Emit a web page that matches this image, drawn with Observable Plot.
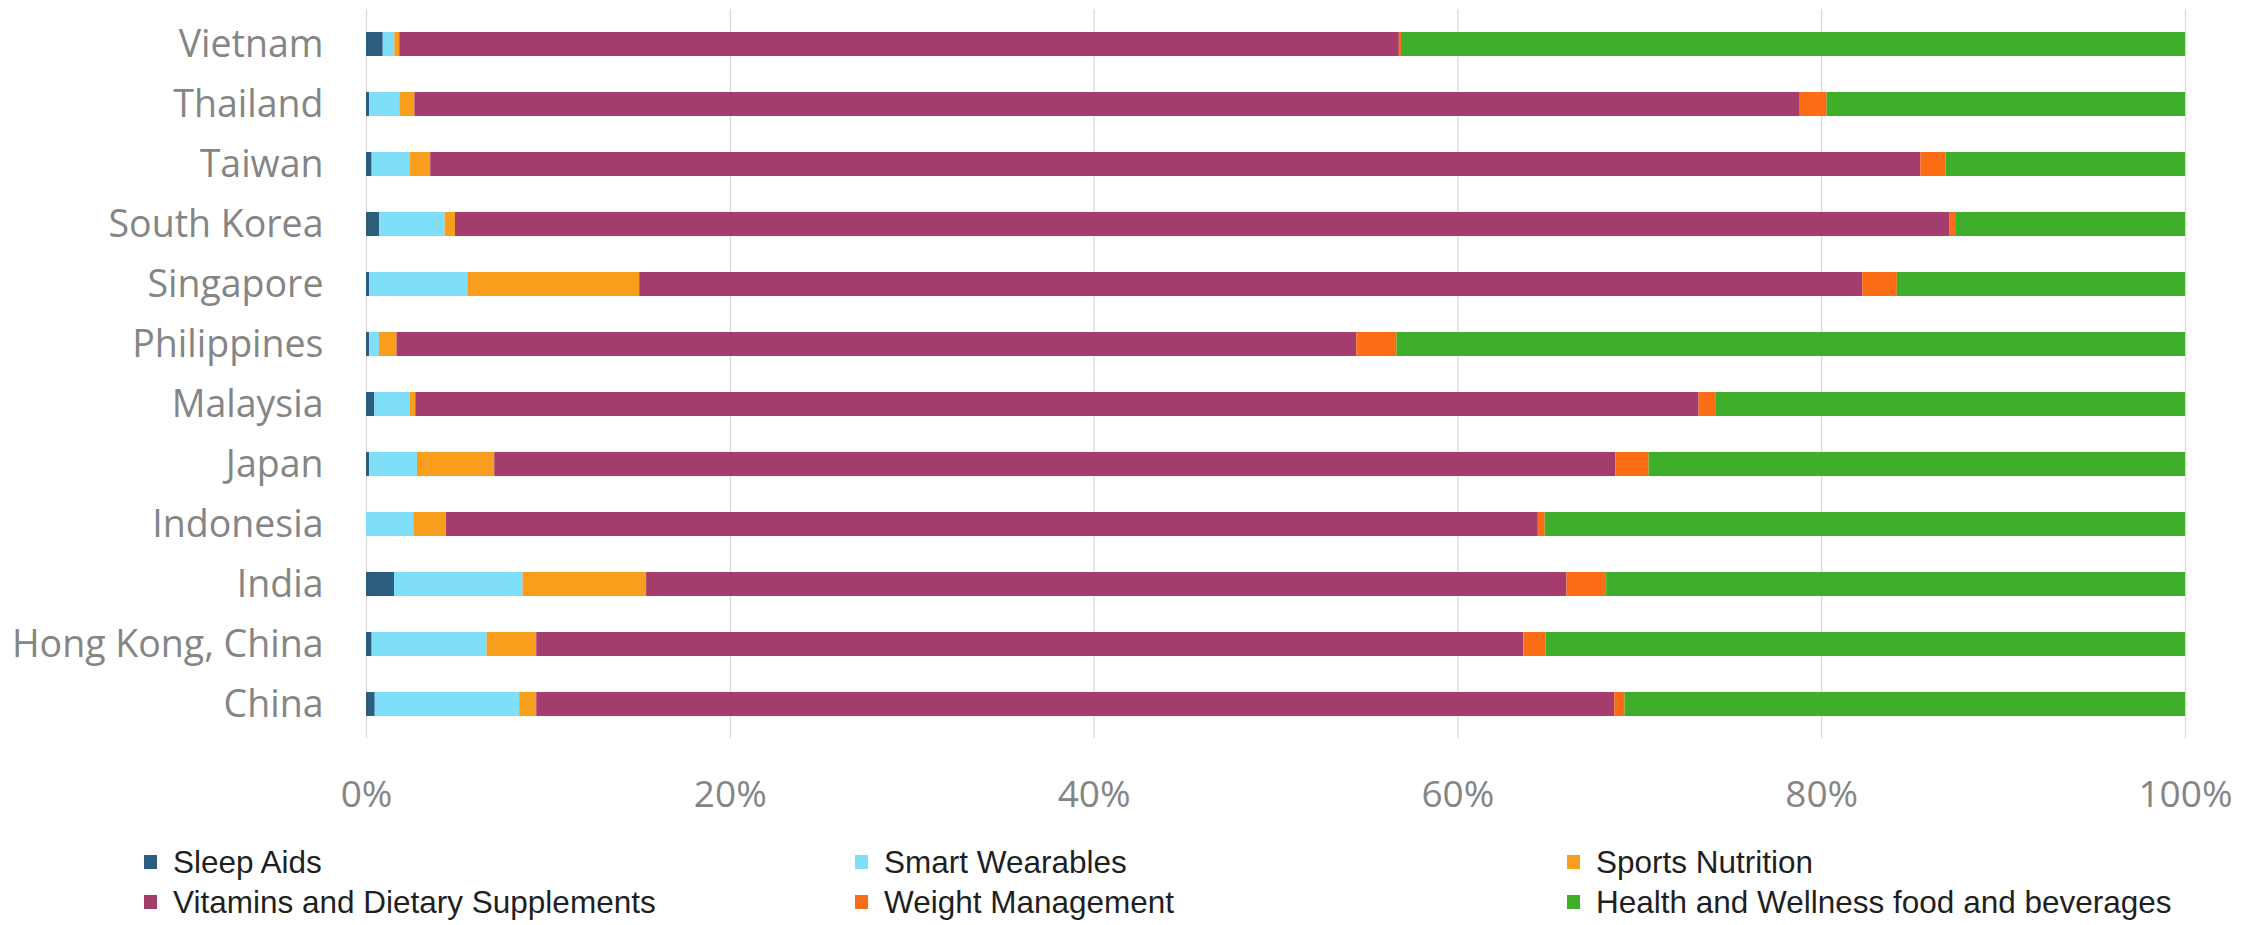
<!DOCTYPE html>
<html>
<head>
<meta charset="utf-8">
<script src="https://cdn.jsdelivr.net/npm/d3@7"></script>
<script src="https://cdn.jsdelivr.net/npm/@observablehq/plot@0.6"></script>
<style>
  html, body { margin: 0; padding: 0; background: #ffffff; }
  #wrap { position: relative; width: 2264px; height: 925px; }
  #legend { position: relative; width: 2264px; height: 95px; font-family: "Liberation Sans", Arial, sans-serif; font-size: 31.5px; color: #1f1f1f; }
  .item { position: absolute; height: 30px; line-height: 30px; white-space: nowrap; }
  .swatch { position: absolute; left: 0; top: 8px; width: 13px; height: 14px; }
  .label { position: absolute; left: 29px; top: 0; }
</style>
</head>
<body>
<div id="wrap">
  <div id="chart"></div>
  <div id="legend"></div>
</div>
<script>
// Countries, top to bottom
const countries = [
  "Vietnam", "Thailand", "Taiwan", "South Korea", "Singapore", "Philippines",
  "Malaysia", "Japan", "Indonesia", "India", "Hong Kong, China", "China"
];

// Product categories in stacking order (left to right)
const categories = [
  "Sleep Aids",
  "Smart Wearables",
  "Sports Nutrition",
  "Vitamins and Dietary Supplements",
  "Weight Management",
  "Health and Wellness food and beverages"
];

const categoryColors = ["#2d5e7e", "#7fdff9", "#f99d1c", "#a53c6e", "#fb6d15", "#3fae2b"];

// Share of sales (%) per country, same order as `countries`
const sleepAids      = [0.92, 0.18, 0.31, 0.73, 0.18, 0.18, 0.46, 0.18, 0.00, 1.54, 0.31, 0.48];
const smartWearables = [0.64, 1.65, 2.11, 3.59, 5.39, 0.53, 1.92, 2.62, 2.60, 7.07, 6.32, 7.94];
const sportsNutrition= [0.27, 0.83, 1.11, 0.57, 9.45, 0.97, 0.33, 4.25, 1.80, 6.79, 2.73, 0.94];
const vitamins       = [54.95, 76.16, 81.92, 82.14, 67.24, 52.76, 70.55, 61.63, 60.02, 50.60, 54.27, 59.26];
const weightMgmt     = [0.12, 1.48, 1.39, 0.38, 1.90, 2.21, 0.95, 1.83, 0.38, 2.18, 1.23, 0.57];
const healthWellness = [43.10, 19.70, 13.16, 12.59, 15.84, 43.35, 25.79, 29.49, 35.20, 31.82, 35.14, 30.81];

const xTicks = [0, 20, 40, 60, 80, 100];

const seriesValues = [sleepAids, smartWearables, sportsNutrition, vitamins, weightMgmt, healthWellness];

// Long-format table for the stacked bars
const rows = countries.flatMap((country, i) =>
  categories.map((category, j) => ({country, category, share: seriesValues[j][i]}))
);

const chart = Plot.plot({
  width: 2264,
  height: 830,
  marginLeft: 366,
  marginRight: 79,
  marginTop: 9,
  marginBottom: 92,
  style: {fontFamily: "'Open Sans', sans-serif", fontSize: "38px", color: "#858585", background: "#ffffff"},
  x: {domain: [0, 100], label: null},
  y: {domain: countries, paddingInner: 0.6, paddingOuter: 0.3, label: null},
  color: {domain: categories, range: categoryColors},
  marks: [
    Plot.gridX(xTicks, {stroke: "#d9d9d9", strokeOpacity: 1, strokeWidth: 1.2}),
    Plot.barX(rows, {x: "share", y: "country", fill: "category", order: categories}),
    Plot.axisY({tickSize: 0, tickPadding: 43, fontSize: 37.5}),
    Plot.axisX(xTicks, {tickSize: 0, tickPadding: 42, fontSize: 37, tickFormat: d => d + "%"})
  ]
});
document.getElementById("chart").appendChild(chart);

// Legend below the chart: three columns, two rows
const legend = document.getElementById("legend");
const colX = [144, 855, 1567];
const rowY = [17, 57];
categories.forEach((name, k) => {
  const item = document.createElement("div");
  item.className = "item";
  item.style.left = colX[k % 3] + "px";
  item.style.top = rowY[Math.floor(k / 3)] + "px";
  const sw = document.createElement("div");
  sw.className = "swatch";
  sw.style.background = categoryColors[k];
  const lb = document.createElement("div");
  lb.className = "label";
  lb.textContent = name;
  item.appendChild(sw);
  item.appendChild(lb);
  legend.appendChild(item);
});
</script>
</body>
</html>
